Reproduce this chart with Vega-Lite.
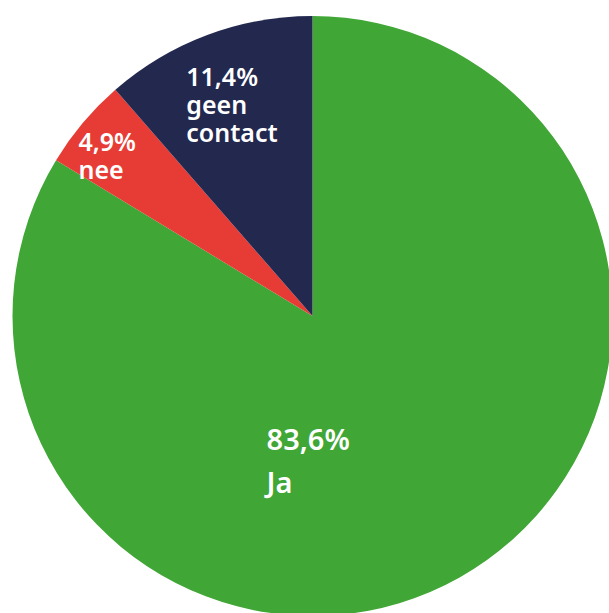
{
  "$schema": "https://vega.github.io/schema/vega-lite/v6.json",
  "width": 625,
  "height": 632,
  "autosize": "none",
  "padding": 0,
  "background": "white",
  "view": {"stroke": null},
  "data": {
    "values": [
      {"category": "Ja", "pct": 83.6, "rank": 1, "label": "83,6%\nJa"},
      {"category": "nee", "pct": 4.9, "rank": 2, "label": "4,9%\nnee"},
      {"category": "geen contact", "pct": 11.4, "rank": 3, "label": "11,4%\ngeen\ncontact"}
    ]
  },
  "encoding": {
    "theta": {"field": "pct", "type": "quantitative", "stack": true},
    "order": {"field": "rank", "type": "quantitative"},
    "detail": {"field": "category", "type": "nominal"}
  },
  "layer": [
    {
      "mark": {"type": "arc", "outerRadius": 300, "stroke": null},
      "encoding": {
        "color": {
          "field": "category",
          "type": "nominal",
          "scale": {"domain": ["Ja", "nee", "geen contact"], "range": ["#40a636", "#e73c36", "#23284f"]},
          "legend": null
        }
      }
    },
    {
      "mark": {"type": "text", "radius": 94, "dx": -92, "dy": 52, "align": "left", "baseline": "alphabetic", "fontSize": 29, "lineHeight": 43, "lineBreak": "\n", "font": "Noto Sans", "fontWeight": 600, "fill": "white"},
      "encoding": {"text": {"condition": {"test": "datum.category === 'Ja'", "field": "label", "type": "nominal"}, "value": ""}}
    },
    {
      "mark": {"type": "text", "radius": 285, "dx": -16, "dy": 19, "align": "left", "baseline": "alphabetic", "fontSize": 25, "lineHeight": 27.5, "lineBreak": "\n", "font": "Noto Sans", "fontWeight": 600, "fill": "white"},
      "encoding": {"text": {"condition": {"test": "datum.category === 'nee'", "field": "label", "type": "nominal"}, "value": ""}}
    },
    {
      "mark": {"type": "text", "radius": 260, "dx": -35, "dy": 13, "align": "left", "baseline": "alphabetic", "fontSize": 25, "lineHeight": 28, "lineBreak": "\n", "font": "Noto Sans", "fontWeight": 600, "fill": "white"},
      "encoding": {"text": {"condition": {"test": "datum.category === 'geen contact'", "field": "label", "type": "nominal"}, "value": ""}}
    }
  ]
}
